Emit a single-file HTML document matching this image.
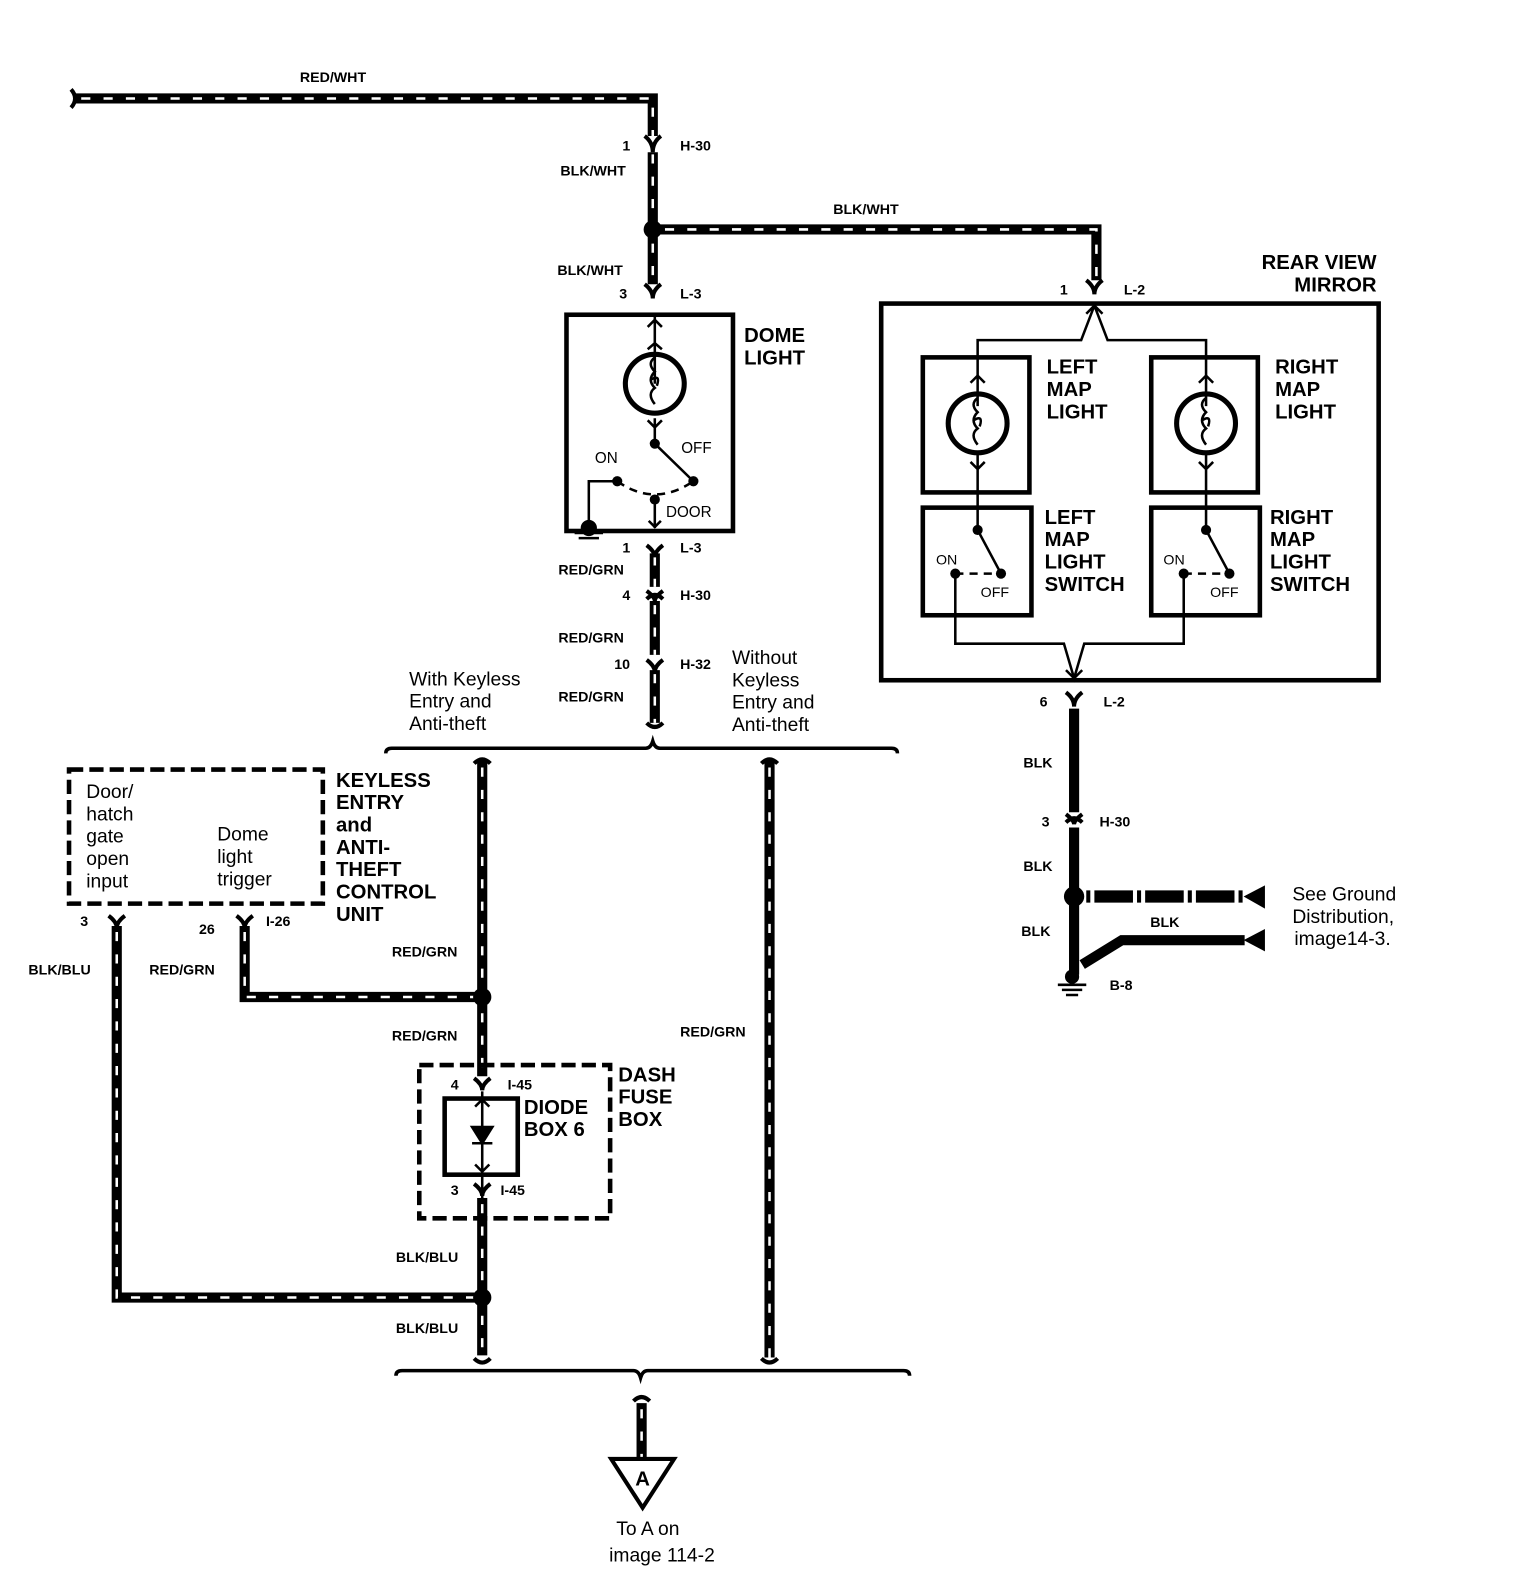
<!DOCTYPE html>
<html><head><meta charset="utf-8"><style>
html,body{margin:0;padding:0;background:#fff;}
svg{display:block;}
text{font-family:"Liberation Sans",Arial,sans-serif;fill:#000;}
.b{font-weight:bold;font-size:20px;}
.s{font-weight:bold;font-size:14px;}
.r{font-size:19px;}
.w{stroke:#000;stroke-width:10;fill:none;}
.wd{stroke:#fff;stroke-width:2.5;fill:none;stroke-dasharray:9 13;}
.t{stroke:#000;stroke-width:2.5;fill:none;}
.bx{stroke:#000;stroke-width:4.5;fill:none;}
.dbx{stroke:#000;stroke-width:4.5;fill:none;stroke-dasharray:14 6;}
</style></head><body>
<svg width="1536" height="1594" viewBox="0 0 1513 1570" preserveAspectRatio="none" xmlns="http://www.w3.org/2000/svg">
<g>
<path class="w" d="M72,97 H643 V134"/><path class="wd" d="M80,97 H643 V134"/>
<path class="w" d="M70,88 q8,9 0,18" style="stroke-width:4"/>
<path class="w" d="M643,150 V226 V280"/><path class="wd" d="M643,152 V280"/>
<path class="w" d="M643,226 H1080 V276"/><path class="wd" d="M655,226 H1080 V276"/>
<path class="w" d="M645,545 V578"/><path class="wd" d="M645,548 V578"/>
<path class="w" d="M645,592 V645"/><path class="wd" d="M645,596 V645"/>
<path class="w" d="M645,660 V712"/><path class="wd" d="M645,664 V712"/>
<path class="w" d="M475,750 V1060"/><path class="wd" d="M475,756 V1060"/>
<path class="w" d="M758,750 V1337"/><path class="wd" d="M758,756 V1337"/>
<path class="w" d="M241,912 V982 H475"/><path class="wd" d="M241,918 V982 H470"/>
<path class="w" d="M115,912 V1278 H475"/><path class="wd" d="M115,918 V1278 H468"/>
<path class="w" d="M475,1180 V1335"/><path class="wd" d="M475,1186 V1335"/>
<path class="w" d="M632,1382 V1436"/><path class="wd" d="M632,1388 V1436"/>
<path class="w" d="M1058,698 V800"/>
<path class="w" d="M1058,815 V960"/>
<path class="w" d="M1066,950 L1105,926 H1226"/>
<path d="M1070,883 H1226" style="stroke:#000;stroke-width:12;fill:none;stroke-dasharray:4 4 38 4"/>
</g>
<g class="t" style="stroke-width:4">
<path d="M635,134 q8,6 8,16 q0,-10 8,-16"/>
<path d="M635,280 q8,6 8,14 q0,-8 8,-14"/>
<path d="M1070,276 q8,6 8,14 q0,-8 8,-14"/>
<path d="M637,537 q8,6 8,12 q0,-6 8,-12"/>
<path d="M637,590 q8,-8 16,0"/><path d="M637,582 q8,6 8,10 q0,-4 8,-10"/>
<path d="M637,650 q8,6 8,12 q0,-6 8,-12"/>
<path d="M637,712 q8,8 16,0"/>
<path d="M467,752 q8,-8 16,0"/><path d="M750,752 q8,-8 16,0"/>
<path d="M107,902 q8,6 8,12 q0,-6 8,-12"/><path d="M233,902 q8,6 8,12 q0,-6 8,-12"/>
<path d="M467,1062 q8,6 8,12 q0,-6 8,-12"/><path d="M467,1166 q8,6 8,12 q0,-6 8,-12"/>
<path d="M467,1338 q8,8 16,0"/><path d="M750,1338 q8,8 16,0"/>
<path d="M624,1380 q8,-8 16,0"/>
<path d="M1050,682 q8,6 8,14 q0,-8 8,-14"/>
<path d="M1050,810 q8,-8 16,0"/><path d="M1050,802 q8,6 8,10 q0,-4 8,-10"/>
</g>
<path class="t" style="stroke-width:3.5" d="M380,742 q0,-5 6,-5 H636 q5,0 7,-7 q2,7 7,7 H878 q6,0 6,5"/>
<path class="t" style="stroke-width:3.5" d="M390,1355 q0,-5 6,-5 H624 q5,0 7,7 q2,-7 7,-7 H890 q6,0 6,5"/>
<circle cx="643" cy="226" r="9"/><circle cx="475" cy="982" r="9"/><circle cx="475" cy="1278" r="9"/>
<circle cx="1058" cy="883" r="10"/>
<path d="M1225,883 L1246,872 V895 Z"/><path d="M1225,926 L1246,915 V937 Z"/>
<circle cx="1056" cy="962" r="7"/><path class="t" d="M1042,970 H1070 M1046,975 H1066 M1050,980 H1062"/>
<path d="M602,1437 H664 L633,1485 Z" style="fill:#fff;stroke:#000;stroke-width:4"/>
<text x="633" y="1463" class="b" text-anchor="middle">A</text>
<rect x="558" y="310" width="164" height="213" class="bx"/>
<g class="t">
<path d="M645,312 V378 M638,322 l7,-7 l7,7 M638,344 l7,-6 l7,6"/>
<circle cx="645" cy="378" r="29" style="stroke-width:5"/>
<path d="M645,352 q-8,6 0,14 q-8,8 0,16 q-8,6 0,16 M641,374 q10,-6 6,6"/>
<path d="M638,414 l7,7 l7,-7 M645,412 V437 L683,474"/>
<path d="M608,474 L580,474 V515" />
<path d="M608,474 Q645,500 683,474" style="stroke-dasharray:8 6"/>
<path d="M645,492 V520 M639,513 l6,6 l6,-6"/>
</g>
<circle cx="645" cy="437" r="5"/><circle cx="683" cy="474" r="5"/><circle cx="608" cy="474" r="5"/><circle cx="645" cy="492" r="5"/>
<circle cx="580" cy="520" r="8"/><path class="t" d="M566,525 H594 M570,530 H590"/>
<rect x="868" y="299" width="490" height="371" class="bx"/>
<rect x="909" y="352" width="105" height="133" class="bx"/>
<rect x="1134" y="352" width="105" height="133" class="bx"/>
<rect x="909" y="500" width="107" height="106" class="bx"/>
<rect x="1134" y="500" width="107" height="106" class="bx"/>
<g class="t">
<path d="M1078,301 L1065,335 H963 V400 M1078,301 L1091,335 H1188 V400 M1070,309 l8,-8 l8,8"/>
<path d="M956,377 l7,-7 l7,7 M1181,377 l7,-7 l7,7"/>
<circle cx="963" cy="417" r="29" style="stroke-width:5"/><circle cx="1188" cy="417" r="29" style="stroke-width:5"/>
<path d="M963,392 q-8,6 0,14 q-8,8 0,16 q-8,6 0,16 M959,414 q10,-6 6,6"/>
<path d="M1188,392 q-8,6 0,14 q-8,8 0,16 q-8,6 0,16 M1184,414 q10,-6 6,6"/>
<path d="M956,455 l7,7 l7,-7 M963,448 V522 L986,565 M1181,455 l7,7 l7,-7 M1188,448 V522 L1211,565"/>
<path d="M941,565 H986 M1166,565 H1211" style="stroke-dasharray:8 6"/>
<path d="M941,565 V634 H1048 L1058,668 L1068,634 H1166 V565 M1050,660 l8,8 l8,-8"/>
</g>
<circle cx="963" cy="522" r="5"/><circle cx="986" cy="565" r="5"/><circle cx="941" cy="565" r="5"/>
<circle cx="1188" cy="522" r="5"/><circle cx="1211" cy="565" r="5"/><circle cx="1166" cy="565" r="5"/>
<rect x="68" y="758" width="250" height="132" class="dbx"/>
<rect x="413" y="1049" width="188" height="151" class="dbx"/>
<rect x="438" y="1082" width="72" height="75" class="bx"/>
<g class="t"><path d="M475,1075 V1180 M465,1110 H485 L475,1126 Z M465,1126 H485 M468,1090 l7,-7 l7,7 M468,1147 l7,7 l7,-7"/></g>
<path d="M465,1110 H485 L475,1126 Z"/>
<text x="328" y="81" class="s" text-anchor="middle">RED/WHT</text>
<text x="613" y="148" class="s">1</text><text x="670" y="148" class="s">H-30</text>
<text x="552" y="173" class="s">BLK/WHT</text>
<text x="853" y="211" class="s" text-anchor="middle">BLK/WHT</text>
<text x="549" y="271" class="s">BLK/WHT</text>
<text x="610" y="294" class="s">3</text><text x="670" y="294" class="s">L-3</text>
<text x="733" y="337" class="b">DOME</text><text x="733" y="359" class="b">LIGHT</text>
<text x="586" y="456" style="font-size:15px">ON</text>
<text x="671" y="446" style="font-size:15px">OFF</text>
<text x="656" y="509" style="font-size:15px">DOOR</text>
<text x="613" y="544" class="s">1</text><text x="670" y="544" class="s">L-3</text>
<text x="550" y="566" class="s">RED/GRN</text>
<text x="613" y="591" class="s">4</text><text x="670" y="591" class="s">H-30</text>
<text x="550" y="633" class="s">RED/GRN</text>
<text x="605" y="659" class="s">10</text><text x="670" y="659" class="s">H-32</text>
<text x="550" y="691" class="s">RED/GRN</text>
<text x="403" y="675" class="r">With Keyless</text><text x="403" y="697" class="r">Entry and</text><text x="403" y="719" class="r">Anti-theft</text>
<text x="721" y="654" class="r">Without</text><text x="721" y="676" class="r">Keyless</text><text x="721" y="698" class="r">Entry and</text><text x="721" y="720" class="r">Anti-theft</text>
<text x="1356" y="265" class="b" text-anchor="end">REAR VIEW</text><text x="1356" y="287" class="b" text-anchor="end">MIRROR</text>
<text x="1044" y="290" class="s">1</text><text x="1107" y="290" class="s">L-2</text>
<text x="1031" y="368" class="b">LEFT</text><text x="1031" y="390" class="b">MAP</text><text x="1031" y="412" class="b">LIGHT</text>
<text x="1256" y="368" class="b">RIGHT</text><text x="1256" y="390" class="b">MAP</text><text x="1256" y="412" class="b">LIGHT</text>
<text x="1029" y="516" class="b">LEFT</text><text x="1029" y="538" class="b">MAP</text><text x="1029" y="560" class="b">LIGHT</text><text x="1029" y="582" class="b">SWITCH</text>
<text x="1251" y="516" class="b">RIGHT</text><text x="1251" y="538" class="b">MAP</text><text x="1251" y="560" class="b">LIGHT</text><text x="1251" y="582" class="b">SWITCH</text>
<text x="922" y="556" style="font-size:14px">ON</text><text x="966" y="588" style="font-size:14px">OFF</text>
<text x="1146" y="556" style="font-size:14px">ON</text><text x="1192" y="588" style="font-size:14px">OFF</text>
<text x="1024" y="696" class="s">6</text><text x="1087" y="696" class="s">L-2</text>
<text x="1008" y="756" class="s">BLK</text>
<text x="1026" y="814" class="s">3</text><text x="1083" y="814" class="s">H-30</text>
<text x="1008" y="858" class="s">BLK</text>
<text x="1006" y="922" class="s">BLK</text>
<text x="1133" y="913" class="s">BLK</text>
<text x="1093" y="975" class="s">B-8</text>
<text x="1273" y="887" class="r">See Ground</text><text x="1273" y="909" class="r">Distribution,</text><text x="1275" y="931" class="r">image14-3.</text>
<text x="85" y="786" class="r">Door/</text><text x="85" y="808" class="r">hatch</text><text x="85" y="830" class="r">gate</text><text x="85" y="852" class="r">open</text><text x="85" y="874" class="r">input</text>
<text x="214" y="828" class="r">Dome</text><text x="214" y="850" class="r">light</text><text x="214" y="872" class="r">trigger</text>
<text x="331" y="775" class="b">KEYLESS</text><text x="331" y="797" class="b">ENTRY</text><text x="331" y="819" class="b">and</text><text x="331" y="841" class="b">ANTI-</text><text x="331" y="863" class="b">THEFT</text><text x="331" y="885" class="b">CONTROL</text><text x="331" y="907" class="b">UNIT</text>
<text x="79" y="912" class="s">3</text><text x="196" y="920" class="s">26</text><text x="262" y="912" class="s">I-26</text>
<text x="28" y="960" class="s">BLK/BLU</text><text x="147" y="960" class="s">RED/GRN</text>
<text x="386" y="942" class="s">RED/GRN</text><text x="386" y="1025" class="s">RED/GRN</text>
<text x="670" y="1021" class="s">RED/GRN</text>
<text x="444" y="1073" class="s">4</text><text x="500" y="1073" class="s">I-45</text>
<text x="444" y="1177" class="s">3</text><text x="493" y="1177" class="s">I-45</text>
<text x="516" y="1097" class="b">DIODE</text><text x="516" y="1119" class="b">BOX 6</text>
<text x="609" y="1065" class="b">DASH</text><text x="609" y="1087" class="b">FUSE</text><text x="609" y="1109" class="b">BOX</text>
<text x="390" y="1243" class="s">BLK/BLU</text><text x="390" y="1313" class="s">BLK/BLU</text>
<text x="607" y="1512" class="r">To A  on</text><text x="600" y="1538" class="r">image 114-2</text>
</svg>
</body></html>
